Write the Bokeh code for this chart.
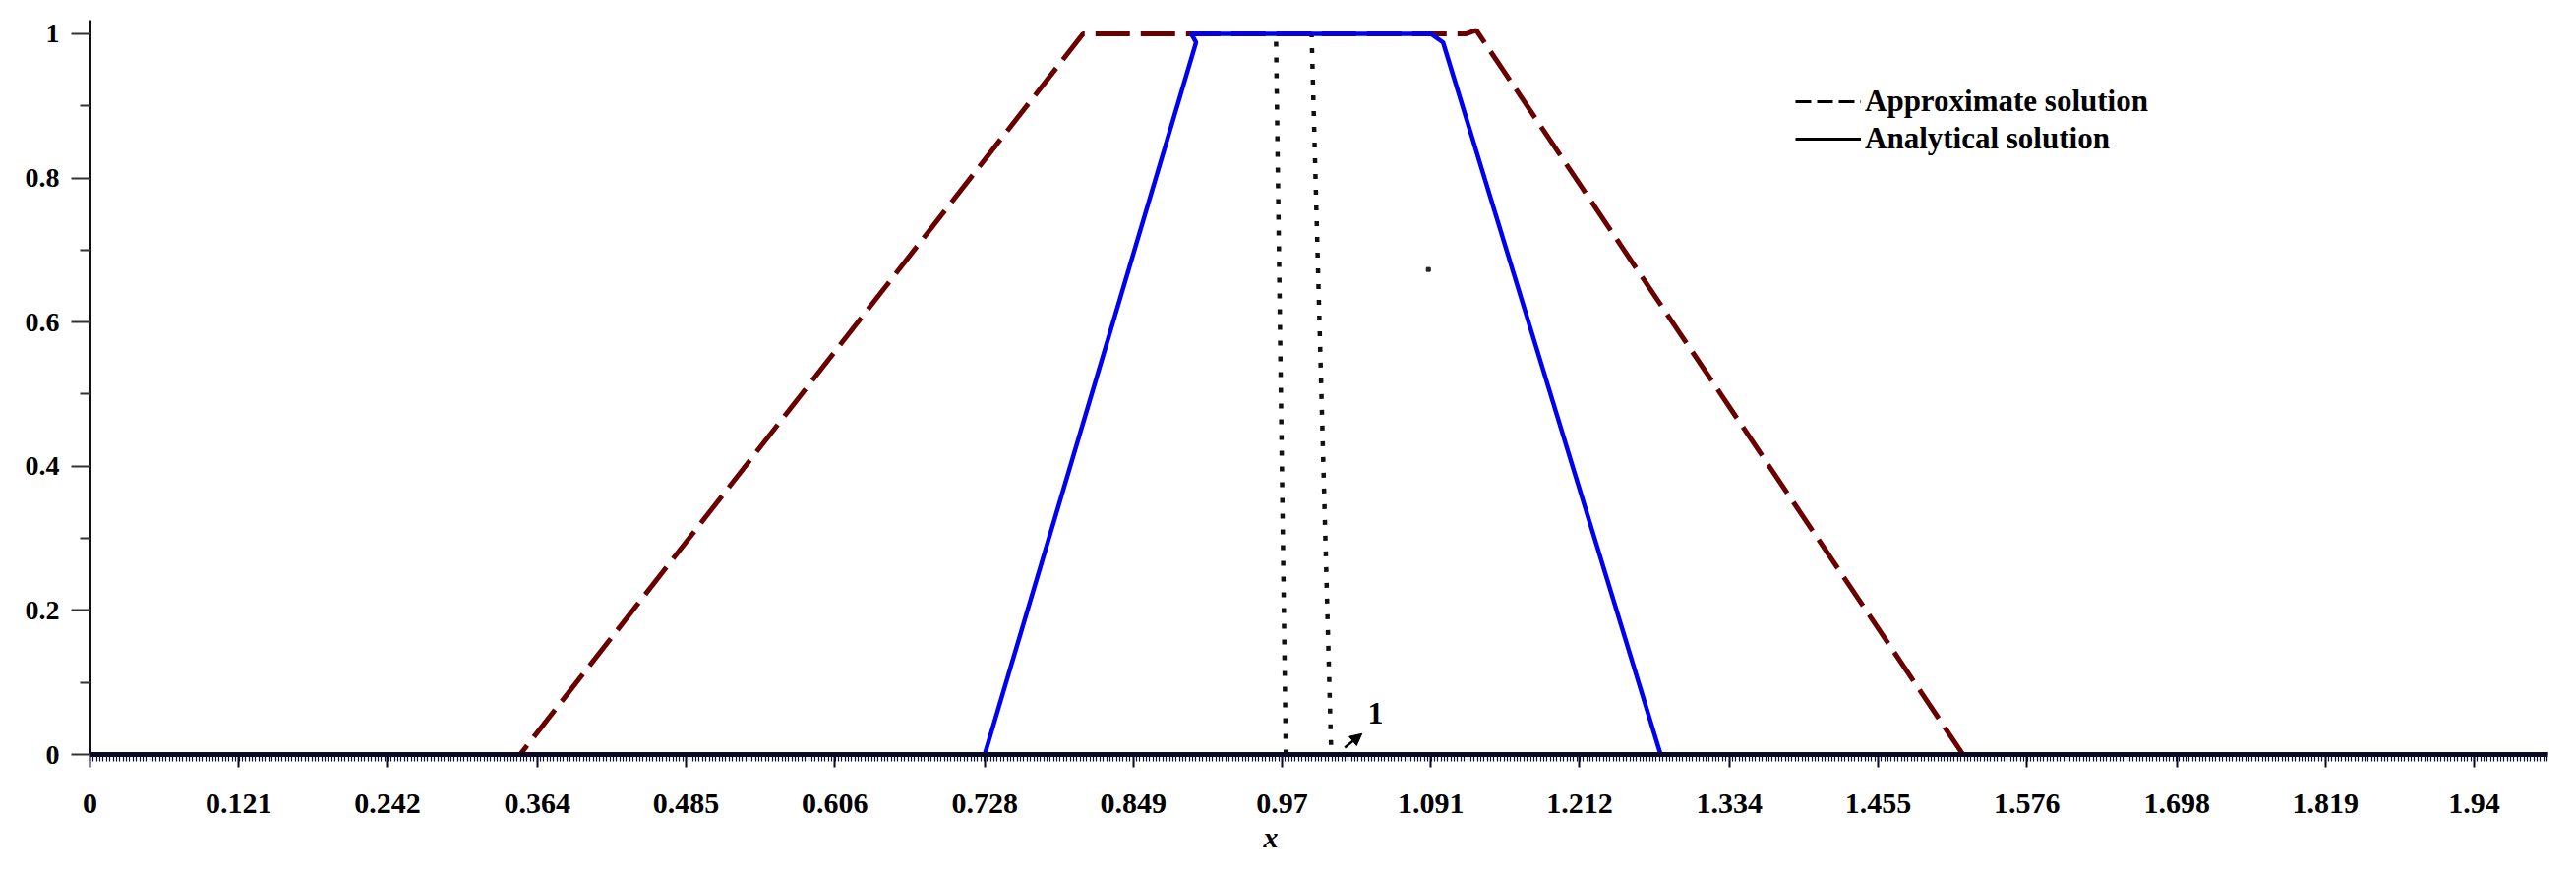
import numpy as np
from bokeh.plotting import figure
from bokeh.models import Range1d, FixedTicker, Legend, LegendItem, Label, Arrow, NormalHead, Title
from bokeh.embed import file_html
from bokeh.resources import INLINE

# ---- data ----
approx_x = [0.0, 0.350, 0.808, 1.120, 1.128, 1.524, 2.0]
approx_y = [0.0, 0.0, 1.0, 1.0, 1.005, 0.0, 0.0]

numer_x = [0.0, 0.728, 0.900, 0.896, 1.091, 1.101, 1.278, 2.0]
numer_y = [0.0, 0.0, 0.988, 1.0, 1.0, 0.988, 0.0, 0.0]

spike_x = [0.973, 0.965, 0.994, 1.010]
spike_y = [0.0, 1.0, 1.0, 0.0]

stray_x = [1.089]
stray_y = [0.673]

xtick_labels = ["0", "0.121", "0.242", "0.364", "0.485", "0.606", "0.728", "0.849",
                "0.97", "1.091", "1.212", "1.334", "1.455", "1.576", "1.698", "1.819", "1.94"]
xtick_vals = [float(s) for s in xtick_labels]
ytick_labels = ["0", "0.2", "0.4", "0.6", "0.8", "1"]
ytick_vals = [float(s) for s in ytick_labels]
ytick_minor = [0.1, 0.3, 0.5, 0.7, 0.9]

legend_labels = ["Approximate solution", "Analytical solution"]
arrow_label = "1"
xlabel = "x"

# ---- figure ----
p = figure(width=2603, height=872,
           x_range=Range1d(0, 2.0), y_range=Range1d(0, 1.019),
           output_backend="svg", toolbar_location=None,
           min_border_left=91, min_border_right=13,
           min_border_top=20, min_border_bottom=105)
p.xgrid.grid_line_color = None
p.ygrid.grid_line_color = None
p.outline_line_color = None
p.background_fill_color = "white"

# x axis
xa = p.xaxis[0]
x_minor_step = 0.12125 / 45
xa.ticker = FixedTicker(ticks=xtick_vals,
                        minor_ticks=list(np.arange(0, 2.0 + 1e-9, x_minor_step)))
xa.major_label_overrides = {v: s for v, s in zip(xtick_vals, xtick_labels)}
xa.axis_line_width = 5
xa.axis_line_color = "#0b0b26"
xa.major_tick_line_color = "#0b0b26"
xa.major_tick_line_width = 2
xa.major_tick_out = 13
xa.major_tick_in = 0
xa.minor_tick_line_color = "#0b0b26"
xa.minor_tick_line_width = 1.2
xa.minor_tick_out = 7
xa.minor_tick_in = 0
xa.major_label_text_font = "Liberation Serif"
xa.major_label_text_font_style = "bold"
xa.major_label_text_font_size = "30px"
xa.major_label_text_color = "black"
xa.major_label_standoff = 27

# y axis
ya = p.yaxis[0]
ya.ticker = FixedTicker(ticks=ytick_vals, minor_ticks=ytick_minor)
ya.major_label_overrides = {v: s for v, s in zip(ytick_vals, ytick_labels)}
ya.axis_line_width = 3
ya.axis_line_color = "#111111"
ya.major_tick_line_color = "#333333"
ya.major_tick_line_width = 2
ya.major_tick_out = 19
ya.major_tick_in = 0
ya.minor_tick_line_color = "#333333"
ya.minor_tick_line_width = 2
ya.minor_tick_out = 10
ya.minor_tick_in = 0
ya.major_label_text_font = "Liberation Serif"
ya.major_label_text_font_style = "bold"
ya.major_label_text_font_size = "28px"
ya.major_label_text_color = "black"
ya.major_label_standoff = 12

# x label placed under the 0.97 tick, as in the reference
p.add_layout(Title(text=xlabel, align="left", offset=1193, standoff=6,
                   text_font="Liberation Serif", text_font_style="bold italic",
                   text_font_size="30px", text_color="black"), "below")

# ---- curves ----
p.line(spike_x, spike_y, line_color="#111111", line_width=4.5, line_dash="5 11")
p.line(approx_x, approx_y, line_color="#680000", line_width=5, line_dash="35 11")
p.line(numer_x, numer_y, line_color="#0000f0", line_width=4.5)
p.scatter(stray_x, stray_y, size=4, marker="square", color="#222222")

# ---- legend (black keys, as in the reference) ----
r1 = p.line(x=[-5, -4], y=[-5, -5], line_color="black", line_width=3, line_dash="16 6")
r2 = p.line(x=[-5, -4], y=[-5, -5], line_color="black", line_width=3)
legend = Legend(items=[LegendItem(label=legend_labels[0], renderers=[r1]),
                       LegendItem(label=legend_labels[1], renderers=[r2])],
                location=(1734, 607), glyph_width=67, glyph_height=38,
                label_height=38, label_standoff=4, spacing=0, padding=0, margin=0,
                border_line_color=None, background_fill_alpha=0,
                label_text_font="Liberation Serif", label_text_font_style="bold",
                label_text_font_size="31px", label_text_color="black")
p.add_layout(legend)

# ---- annotation arrow + label ----
p.add_layout(Arrow(end=NormalHead(size=12, fill_color="black", line_color="black"),
                   x_start=1.021, y_start=0.0095, x_end=1.035, y_end=0.029,
                   line_width=2.5, line_color="black"))
p.add_layout(Label(x=1.046, y=0.057, text=arrow_label, text_align="center",
                   text_baseline="middle", text_font="Liberation Serif",
                   text_font_style="bold", text_font_size="32px", text_color="black"))

open("out.html", "w").write(file_html(p, INLINE))
